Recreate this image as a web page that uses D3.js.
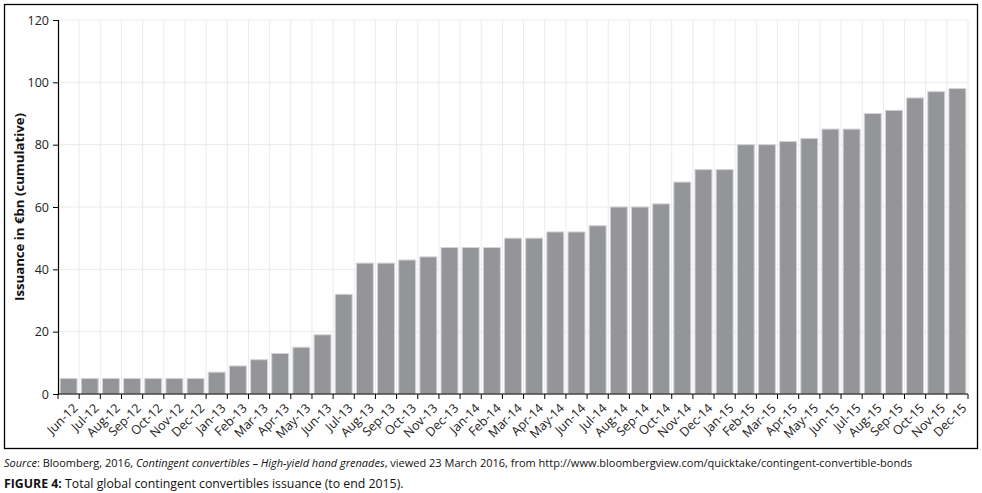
<!DOCTYPE html>
<html><head><meta charset="utf-8">
<script src="https://cdn.jsdelivr.net/npm/d3@7"></script>
<style>
body{margin:0;background:#fff;}
svg{display:block;}
</style></head>
<body>
<svg id="chart" width="982" height="493"></svg>
<script>
const categories = ["Jun-12","Jul-12","Aug-12","Sep-12","Oct-12","Nov-12","Dec-12",
"Jan-13","Feb-13","Mar-13","Apr-13","May-13","Jun-13","Jul-13","Aug-13","Sep-13","Oct-13","Nov-13","Dec-13",
"Jan-14","Feb-14","Mar-14","Apr-14","May-14","Jun-14","Jul-14","Aug-14","Sep-14","Oct-14","Nov-14","Dec-14",
"Jan-15","Feb-15","Mar-15","Apr-15","May-15","Jun-15","Jul-15","Aug-15","Sep-15","Oct-15","Nov-15","Dec-15"];
const values = [5,5,5,5,5,5,5,
7,9,11,13,15,19,32,42,42,43,44,47,
47,47,50,50,52,52,54,60,60,61,68,72,
72,80,80,81,82,85,85,90,91,95,97,98];
const yTicks = [0,20,40,60,80,100,120];

(function(){
const svg = d3.select("#chart");
const pL = 58, pR = 968, pT = 20, pB = 394;
const font = "'Open Sans', 'Liberation Sans', sans-serif";

svg.append("rect").attr("x",4.5).attr("y",4.5).attr("width",973).attr("height",444)
  .attr("fill","none").attr("stroke","#000").attr("stroke-width",1.3);

const x = d3.scaleBand().domain(categories).range([pL,pR]).paddingInner(0.2).paddingOuter(0.1);
const y = d3.scaleLinear().domain([0,120]).range([pB,pT]);
const step = x.step();

const g = svg.append("g");
g.selectAll(".hg").data(yTicks.slice(1)).join("line")
  .attr("x1",pL).attr("x2",pR).attr("y1",d=>y(d)).attr("y2",d=>y(d))
  .attr("stroke","#ebebeb").attr("stroke-width",1);
const bounds = d3.range(categories.length+1);
g.selectAll(".vg").data(bounds.slice(1)).join("line")
  .attr("x1",i=>pL+i*step).attr("x2",i=>pL+i*step).attr("y1",pT).attr("y2",pB)
  .attr("stroke","#ebebeb").attr("stroke-width",1);

svg.append("g").selectAll("rect").data(values).join("rect")
  .attr("x",(d,i)=>x(categories[i]))
  .attr("y",d=>y(d))
  .attr("width",x.bandwidth())
  .attr("height",d=>pB-y(d))
  .attr("fill","#939598").attr("stroke","#d4d4d6").attr("stroke-width",1);

const ya = svg.append("g").attr("transform",`translate(${pL},0)`)
  .call(d3.axisLeft(y).tickValues(yTicks).tickSize(5).tickPadding(4));
ya.select(".domain").attr("stroke","#000").attr("stroke-width",1.2);
ya.selectAll(".tick line").attr("stroke","#000");
ya.selectAll("text").attr("font-family",font).attr("font-size",12.5).attr("fill","#222");

const xa = svg.append("g");
xa.append("line").attr("x1",pL).attr("x2",pR).attr("y1",pB).attr("y2",pB)
  .attr("stroke","#000").attr("stroke-width",1.2);
xa.selectAll(".xt").data(bounds).join("line")
  .attr("x1",i=>pL+i*step).attr("x2",i=>pL+i*step).attr("y1",pB).attr("y2",pB+5)
  .attr("stroke","#000");
xa.selectAll("text").data(categories).join("text")
  .attr("transform",d=>`translate(${x(d)+x.bandwidth()/2+5},${pB+10}) rotate(-45)`)
  .attr("text-anchor","end").attr("dy","0.55em")
  .attr("font-family",font).attr("font-size",12.5).attr("fill","#222")
  .text(d=>d);

svg.append("text").attr("transform",`translate(24,${(pT+pB)/2}) rotate(-90)`)
  .attr("text-anchor","middle").attr("font-family",font).attr("font-size",13.2)
  .attr("font-weight","bold").attr("fill","#111").text("Issuance in €bn (cumulative)");

const src = svg.append("text").attr("x",4).attr("y",467).attr("font-family",font)
  .attr("font-size",11).attr("fill","#111");
src.append("tspan").attr("font-style","italic").text("Source");
src.append("tspan").text(": Bloomberg, 2016, ");
src.append("tspan").attr("font-style","italic").text("Contingent convertibles – High-yield hand grenades");
src.append("tspan").text(", viewed 23 March 2016, from http://www.bloombergview.com/quicktake/contingent-convertible-bonds");

const cap = svg.append("text").attr("x",4).attr("y",488).attr("font-family",font)
  .attr("font-size",12.3).attr("fill","#111");
cap.append("tspan").attr("font-weight","bold").text("FIGURE 4:");
cap.append("tspan").text(" Total global contingent convertibles issuance (to end 2015).");
})();
</script>
</body></html>
